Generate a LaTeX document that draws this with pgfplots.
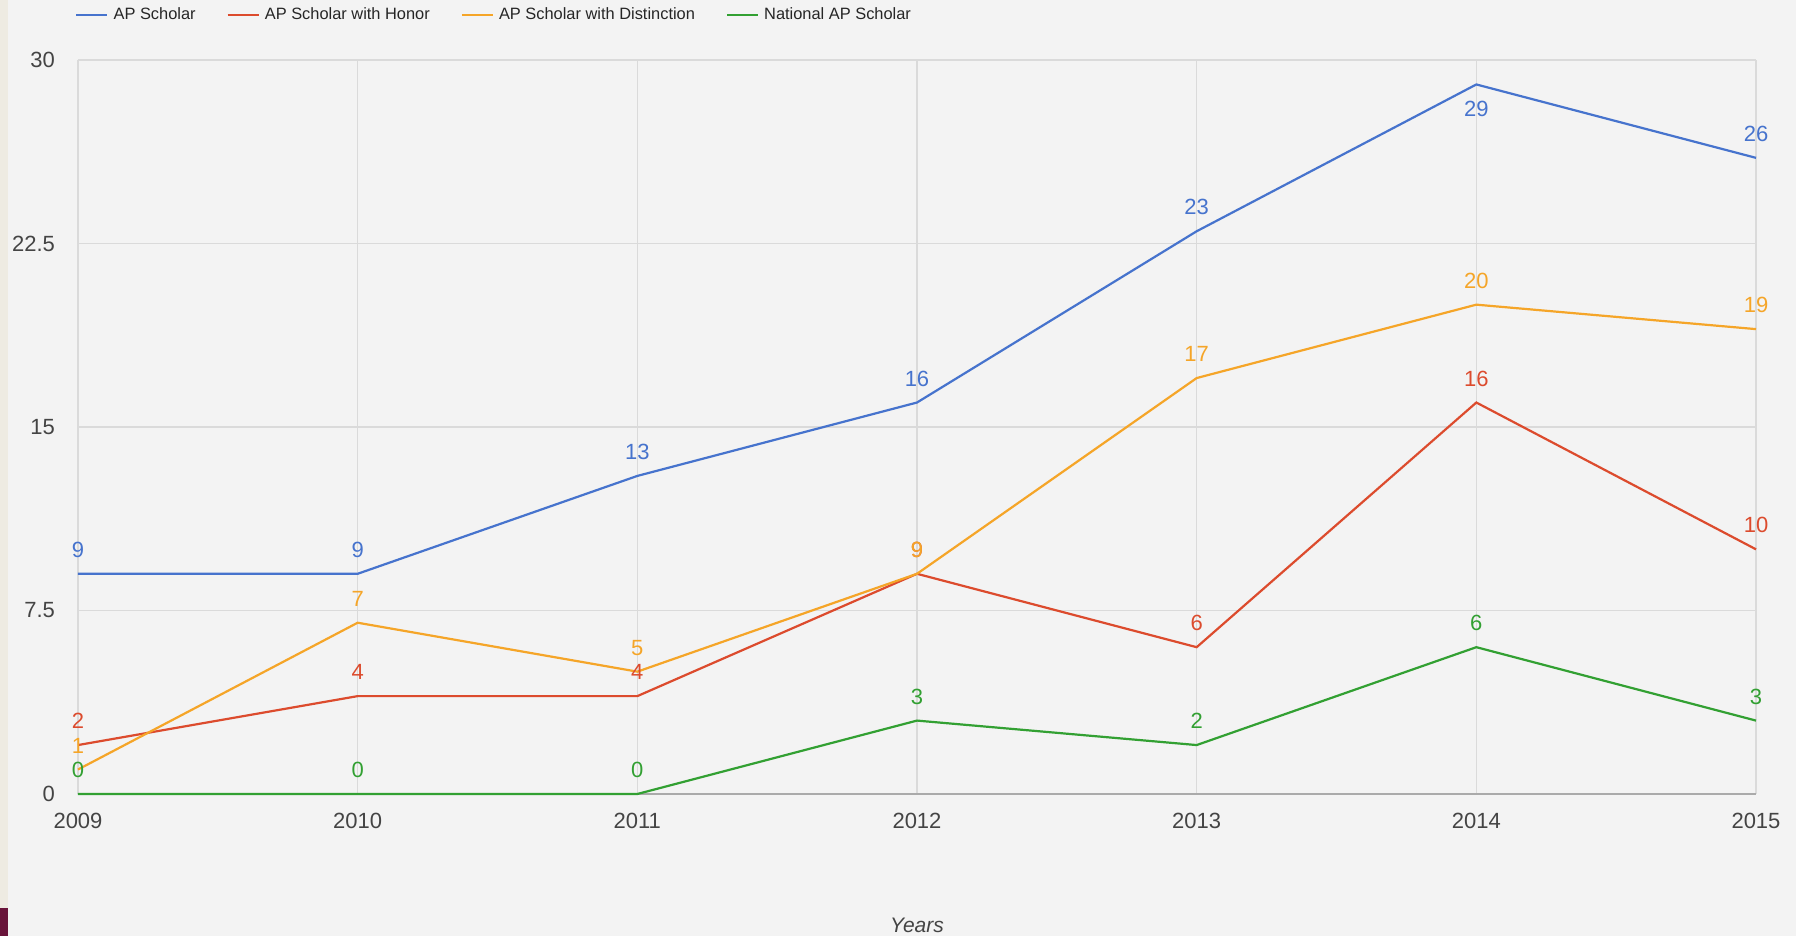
\documentclass[border=0pt]{standalone}
\usepackage{pgfplots}
\pgfplotsset{compat=1.18}
\usepackage{fontspec}
\setmainfont{Liberation Sans}
\usetikzlibrary{backgrounds}

\definecolor{apblue}{RGB}{70,115,205}
\definecolor{apred}{RGB}{220,75,45}
\definecolor{aporange}{RGB}{245,165,40}
\definecolor{apgreen}{RGB}{50,160,50}
\definecolor{bggray}{RGB}{243,243,243}
\definecolor{gridgray}{RGB}{218,218,218}
\definecolor{axisgray}{RGB}{170,170,170}
\definecolor{textgray}{RGB}{68,68,68}
\definecolor{stripbeige}{RGB}{238,235,226}
\definecolor{maroon}{RGB}{105,20,58}

\pgfplotstableread{
year sch shift
2009 9 12
2010 9 12
2011 13 12
2012 16 12
2013 23 12
2014 29 -12
2015 26 12
}\scholar
\pgfplotstableread{
year val
2009 2
2010 4
2011 4
2012 9
2013 6
2014 16
2015 10
}\honor
\pgfplotstableread{
year val
2009 1
2010 7
2011 5
2012 9
2013 17
2014 20
2015 19
}\distinction
\pgfplotstableread{
year val
2009 0
2010 0
2011 0
2012 3
2013 2
2014 6
2015 3
}\national

\begin{document}
\begin{tikzpicture}
\begin{axis}[
width=839pt, height=367pt, scale only axis,
xmin=2009, xmax=2015, ymin=0, ymax=30,
xtick={2009,2010,2011,2012,2013,2014,2015},
ytick={0,7.5,15,22.5,30},
/pgf/number format/1000 sep={},
/pgf/number format/assume math mode=true,
grid=major,
major grid style={color=gridgray, line width=0.6pt},
axis line style={draw=none},
tick style={draw=none},
ticklabel style={font=\fontsize{11}{13}\selectfont, text=textgray},
yticklabel style={xshift=-8pt},
xticklabel style={yshift=-6pt},
clip=false,
nodes near coords,
every node near coord/.style={anchor=center, font=\fontsize{11}{13}\selectfont, yshift=12pt},
legend columns=-1,
legend style={at={(rel axis cs:0,1)}, anchor=west, xshift=-1.5pt, yshift=22.5pt, draw=none, fill=none,
  inner sep=0pt, font=\fontsize{8.2}{9.8}\selectfont, text=black!85,
  /tikz/every odd column/.append style={column sep=0.5pt},
  /tikz/every even column/.append style={column sep=13.5pt}},
legend image code/.code={\draw[#1] (0pt,0pt) -- (15.5pt,0pt);},
]
\draw[axisgray, line width=1.2pt] (rel axis cs:0,0) -- (rel axis cs:1,0);
\addplot[apblue, line width=1.1pt, mark=none,
  visualization depends on={\thisrow{shift} \as \myshift},
  every node near coord/.append style={text=apblue, yshift=\myshift pt-12pt}]
  table[x=year, y=sch] {\scholar};
\addlegendentry{AP Scholar}
\addplot[apred, line width=1.1pt, mark=none,
  every node near coord/.append style={text=apred}]
  table[x=year, y=val] {\honor};
\addlegendentry{AP Scholar with Honor}
\addplot[aporange, line width=1.1pt, mark=none,
  every node near coord/.append style={text=aporange}]
  table[x=year, y=val] {\distinction};
\addlegendentry{AP Scholar with Distinction}
\addplot[apgreen, line width=1.1pt, mark=none,
  every node near coord/.append style={text=apgreen}]
  table[x=year, y=val] {\national};
\addlegendentry{National AP Scholar}
\node[font=\itshape\fontsize{10.5}{12.6}\selectfont, text=textgray] at (rel axis cs:0.5,0) [yshift=-65.5pt] {Years};
\end{axis}
\begin{scope}[on background layer]
\fill[bggray] (-39pt,-71pt) rectangle (859pt,397pt);
\fill[stripbeige] (-39pt,-57pt) rectangle (-35pt,397pt);
\fill[maroon] (-39pt,-71pt) rectangle (-35pt,-57pt);
\end{scope}
\pgfresetboundingbox
\path[use as bounding box] (-39pt,-71pt) rectangle (859pt,397pt);
\end{tikzpicture}
\end{document}
